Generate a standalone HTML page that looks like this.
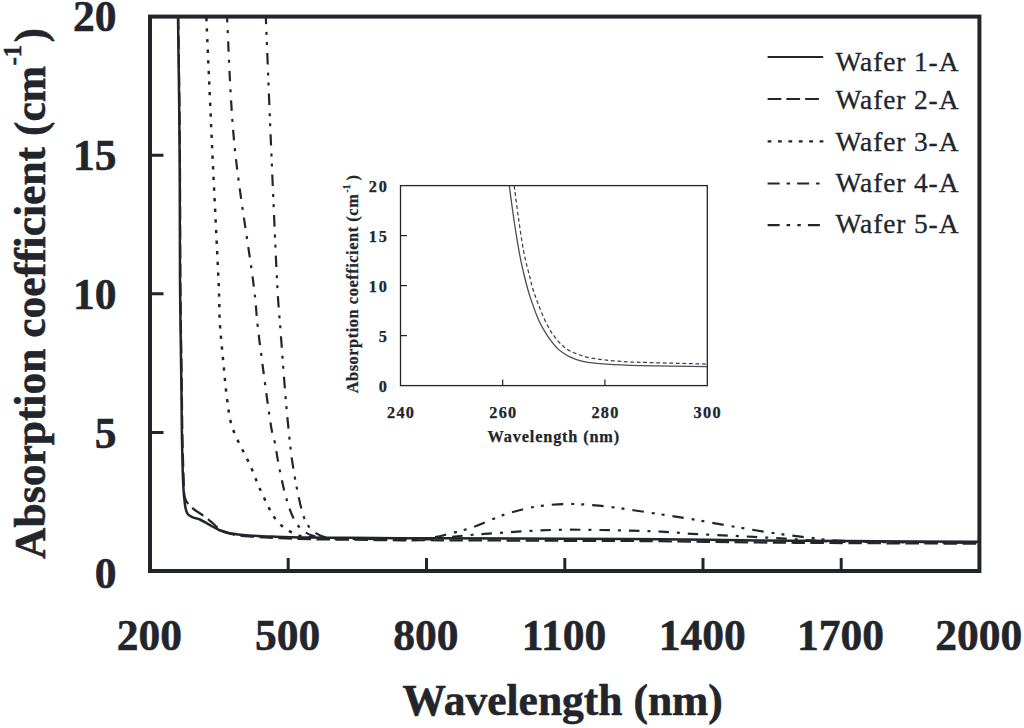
<!DOCTYPE html>
<html><head><meta charset="utf-8"><title>Absorption coefficient</title>
<style>html,body{margin:0;padding:0;background:#fff;}body{width:1024px;height:728px;overflow:hidden;font-family:"Liberation Serif",serif;}svg{display:block;}</style></head>
<body>
<svg width="1024" height="728" viewBox="0 0 1024 728">
<rect width="1024" height="728" fill="#fff"/>
<defs><clipPath id="cm"><rect x="150" y="16.5" width="829.5" height="554.5"/></clipPath><clipPath id="ci"><rect x="400.5" y="185.6" width="306.8" height="200"/></clipPath></defs>
<g fill="none" stroke="#22252c" stroke-linejoin="round" clip-path="url(#cm)">
<path d="M178.0,16.5C178.3,38.8 179.3,106.1 179.6,150.0C179.9,193.9 179.7,239.2 180.0,280.0C180.3,320.8 181.2,368.3 181.5,395.0C181.8,421.7 181.7,425.2 182.0,440.0C182.3,454.8 182.7,473.2 183.2,484.0C183.7,494.8 184.3,500.0 185.0,505.0C185.7,510.0 186.3,511.7 187.6,513.8C188.9,515.8 190.8,516.3 192.9,517.3C195.0,518.2 197.3,518.3 199.9,519.5C202.5,520.7 205.5,522.6 208.7,524.4C211.9,526.1 215.7,528.5 219.2,530.0C222.7,531.5 224.8,532.3 229.8,533.2C234.8,534.1 241.4,534.8 249.0,535.4C256.6,536.0 265.2,536.3 275.5,536.7C285.8,537.1 298.2,537.4 310.6,537.6C323.0,537.8 335.1,537.6 350.0,537.7C364.9,537.8 385.0,538.2 400.0,538.3C415.0,538.4 412.2,538.2 440.0,538.3C467.8,538.4 530.3,538.6 567.0,538.8C603.7,538.9 627.8,538.9 660.0,539.2C692.2,539.5 728.3,540.2 760.0,540.5C791.7,540.8 813.5,540.9 850.0,541.1C886.5,541.3 957.5,541.6 979.0,541.7" stroke-width="2.5"/>
<path d="M178.3,16.5C178.6,38.8 179.6,106.1 179.9,150.0C180.2,193.9 180.1,239.2 180.4,280.0C180.7,320.8 181.6,368.3 181.9,395.0C182.2,421.7 182.2,425.8 182.5,440.0C182.8,454.2 183.3,470.3 183.7,480.0C184.1,489.7 183.6,493.4 185.0,498.0C186.4,502.6 188.9,504.8 192.0,507.7C195.1,510.6 200.0,513.1 203.4,515.6C206.8,518.1 209.6,520.4 212.2,522.6C214.8,524.8 216.3,527.1 219.2,529.0C222.1,530.9 224.8,532.6 229.8,533.8C234.8,535.0 241.4,535.7 249.0,536.4C256.6,537.1 265.2,537.5 275.5,538.0C285.8,538.5 298.2,538.9 310.6,539.2C323.0,539.5 335.1,539.5 350.0,539.7C364.9,539.9 385.0,540.2 400.0,540.3C415.0,540.4 412.2,540.2 440.0,540.3C467.8,540.4 530.3,540.6 567.0,540.8C603.7,540.9 627.8,540.9 660.0,541.2C692.2,541.5 728.3,542.2 760.0,542.5C791.7,542.8 813.5,542.9 850.0,543.1C886.5,543.3 957.5,543.6 979.0,543.7" stroke-width="2.2" stroke-dasharray="13.5 5.5"/>
<path d="M206.3,16.5C207.2,37.8 210.0,100.7 212.0,144.6C214.0,188.5 217.2,251.0 218.5,280.0C219.8,309.0 219.1,308.0 219.6,318.5C220.1,329.0 220.8,335.4 221.5,343.0C222.2,350.6 222.8,357.1 223.5,364.0C224.2,370.9 224.7,377.7 225.4,384.6C226.1,391.5 227.2,400.3 227.9,405.4C228.6,410.5 228.8,412.0 229.4,415.4C230.0,418.8 230.7,422.2 231.7,425.6C232.7,429.0 234.1,432.1 235.6,435.6C237.1,439.1 239.0,443.1 240.8,446.7C242.6,450.2 244.5,453.5 246.2,456.9C247.9,460.3 249.5,463.9 251.0,467.3C252.5,470.7 253.8,474.0 255.2,477.5C256.6,481.0 257.2,483.1 259.6,488.3C262.0,493.5 266.7,503.5 269.3,508.6C271.9,513.7 273.0,515.8 275.5,519.0C278.0,522.2 281.1,525.4 284.3,527.9C287.5,530.4 291.6,532.5 294.8,534.0C298.0,535.5 299.4,536.0 303.6,536.6C307.8,537.2 317.3,537.6 320.0,537.8" stroke-width="2.5" stroke-dasharray="3.3 7.3" stroke-dashoffset="9.1"/>
<path d="M227.0,16.5C228.2,37.8 230.1,100.7 234.4,144.6C238.7,188.5 249.1,249.8 253.0,280.0C256.9,310.2 255.9,310.7 257.7,326.0C259.4,341.3 261.3,355.3 263.5,372.0C265.7,388.7 269.1,414.1 271.0,426.0C272.9,437.9 273.7,436.8 275.0,443.5C276.3,450.2 277.4,458.5 279.0,466.4C280.6,474.3 282.6,484.0 284.3,491.0C286.1,498.0 287.8,503.6 289.5,508.6C291.2,513.6 293.1,517.7 294.8,520.9C296.6,524.1 298.2,526.0 300.0,527.9C301.8,529.8 303.2,531.0 305.3,532.3C307.4,533.6 309.1,534.6 312.4,535.6C315.7,536.6 318.7,537.5 325.0,538.0C331.3,538.5 333.0,538.6 350.0,538.8C367.0,539.0 411.2,539.6 427.0,539.4C442.8,539.2 437.2,538.4 445.0,537.6C452.8,536.8 463.8,535.6 473.8,534.7C483.8,533.9 494.6,533.2 505.0,532.5C515.4,531.8 525.6,531.1 536.0,530.6C546.4,530.1 557.0,529.8 567.5,529.7C578.0,529.6 588.3,529.9 598.8,530.0C609.2,530.1 619.6,530.3 630.0,530.6C640.4,530.9 650.8,531.1 661.0,531.6C671.2,532.1 680.8,533.1 691.0,533.8C701.2,534.4 712.0,534.8 722.5,535.3C733.0,535.8 743.3,536.3 753.8,536.9C764.2,537.5 774.6,538.0 785.0,538.6C795.4,539.2 805.7,540.1 816.0,540.6C826.3,541.1 819.8,541.4 847.0,541.8C874.2,542.2 957.0,542.6 979.0,542.8" stroke-width="2.2" stroke-dasharray="10.5 8 3 8" stroke-dashoffset="4.5"/>
<path d="M265.8,16.5C266.7,37.8 269.1,100.7 271.0,144.6C272.9,188.5 275.4,248.4 277.0,280.0C278.6,311.6 279.4,314.8 280.8,334.0C282.2,353.2 283.9,376.8 285.4,395.0C286.9,413.2 288.7,431.6 290.0,443.5C291.3,455.4 291.8,458.5 293.0,466.4C294.2,474.3 295.9,483.7 297.4,491.0C298.9,498.3 300.3,505.0 301.8,510.3C303.3,515.6 304.4,519.2 306.2,522.6C308.0,526.0 310.2,528.4 312.4,530.5C314.6,532.6 317.1,533.9 319.4,535.0C321.7,536.1 321.3,536.8 326.4,537.4C331.5,538.0 334.1,538.3 350.0,538.6C365.9,538.9 408.4,539.4 422.0,539.2C435.6,539.0 427.8,538.3 431.5,537.6C435.2,536.9 437.5,536.8 444.5,535.0C451.5,533.2 463.7,530.3 473.8,526.9C483.8,523.5 494.6,517.8 505.0,514.4C515.4,511.0 525.8,508.3 536.2,506.6C546.7,504.9 557.1,504.2 567.5,504.0C577.9,503.8 588.3,504.7 598.8,505.6C609.2,506.6 619.6,508.2 630.0,509.7C640.4,511.2 650.8,512.9 661.0,514.4C671.2,515.9 680.8,517.3 691.0,519.0C701.2,520.7 712.0,522.9 722.5,524.7C733.0,526.5 743.3,528.3 753.8,530.0C764.2,531.7 774.6,533.3 785.0,534.7C795.4,536.1 805.6,537.4 816.0,538.4C826.4,539.4 820.3,540.3 847.5,541.0C874.7,541.7 957.1,542.3 979.0,542.6" stroke-width="2.2" stroke-dasharray="11.5 8 3 7 3 8" stroke-dashoffset="3.8"/>
</g>
<g fill="none" stroke="#22252c">
<rect x="150" y="16.6" width="829.4" height="554.4" stroke-width="4"/>
<path d="M152,155.2H163.5M152,293.8H163.5M152,432.4H163.5M288.2,569V558M426.5,569V558M564.8,569V558M703.0,569V558M841.2,569V558" stroke-width="3"/>
</g>
<g font-family="Liberation Serif, serif" font-weight="bold" fill="#22252c" stroke="#22252c" stroke-width="0.55" font-size="43.5">
<text x="116.6" y="31.0" text-anchor="end">20</text>
<text x="116.6" y="170.1" text-anchor="end">15</text>
<text x="116.6" y="309.0" text-anchor="end">10</text>
<text x="116.6" y="448.4" text-anchor="end">5</text>
<text x="116.6" y="587.7" text-anchor="end">0</text>
<text x="149.3" y="649.8" text-anchor="middle">200</text>
<text x="287.6" y="649.8" text-anchor="middle">500</text>
<text x="425.8" y="649.8" text-anchor="middle">800</text>
<text x="564.0" y="649.8" text-anchor="middle">1100</text>
<text x="702.3" y="649.8" text-anchor="middle">1400</text>
<text x="840.5" y="649.8" text-anchor="middle">1700</text>
<text x="978.8" y="649.8" text-anchor="middle">2000</text>
<text x="402.6" y="714.5">Wavelength (nm)</text>
<text transform="translate(45,558.9) rotate(-90)">Absorption coefficient (cm</text>
<text transform="translate(20.6,65.3) rotate(-90)" font-size="24.5">-1</text>
<text transform="translate(45,42.6) rotate(-90)">)</text>
</g>
<g fill="none" stroke="#22252c" stroke-width="2.2">
<path d="M767.6,57H823.2"/>
<path d="M767.6,99H823.2" stroke-dasharray="13.7 5.1"/>
<path d="M767.6,141.3H823.5" stroke-dasharray="3.8 6.6"/>
<path d="M767.6,183.5H823.2" stroke-dasharray="12 7 3.5 7"/>
<path d="M767.6,225.1H820.5" stroke-dasharray="12 7 3.5 7.2 3.5 7.1"/>
</g>
<g font-family="Liberation Serif, serif" fill="#22252c" stroke="#22252c" stroke-width="0.3" font-size="27.5">
<text x="835.5" y="70.8" textLength="123" lengthAdjust="spacing">Wafer 1-A</text>
<text x="835.5" y="108.5" textLength="123" lengthAdjust="spacing">Wafer 2-A</text>
<text x="835.5" y="150.7" textLength="123" lengthAdjust="spacing">Wafer 3-A</text>
<text x="835.5" y="192.1" textLength="123" lengthAdjust="spacing">Wafer 4-A</text>
<text x="835.5" y="233.0" textLength="123" lengthAdjust="spacing">Wafer 5-A</text>
</g>
<rect x="400.5" y="185.6" width="306.8" height="200" fill="#fff" stroke="#22252c" stroke-width="1.3"/>
<g fill="none" stroke="#22252c" clip-path="url(#ci)">
<path d="M509.3,185.8C510.0,191.1 512.0,206.4 513.6,217.5C515.2,228.6 517.6,243.0 519.2,252.1C520.8,261.2 521.9,265.7 523.4,272.0C524.9,278.3 526.5,284.7 528.0,290.0C529.5,295.3 530.6,298.7 532.4,303.6C534.1,308.6 536.5,315.1 538.5,319.7C540.5,324.3 542.6,327.9 544.7,331.4C546.8,334.9 548.8,337.9 550.9,340.7C553.0,343.5 555.0,346.1 557.1,348.1C559.2,350.2 561.2,351.6 563.3,353.0C565.3,354.4 566.9,355.5 569.4,356.7C571.9,357.9 575.0,359.3 578.1,360.2C581.2,361.1 583.3,361.6 588.0,362.3C592.7,363.0 597.8,363.6 606.5,364.2C615.2,364.8 623.2,365.2 640.0,365.6C656.8,366.0 695.8,366.4 707.0,366.6" stroke-width="1.3" stroke="#4a4d54"/>
<path d="M514.2,185.8C514.9,191.1 516.8,206.4 518.4,217.5C520.0,228.6 521.9,242.2 523.8,252.1C525.7,262.0 528.2,270.5 529.8,277.0C531.4,283.5 532.1,286.6 533.6,291.2C535.1,295.8 536.6,300.1 538.5,304.8C540.4,309.6 542.6,315.3 544.7,319.7C546.8,324.1 548.8,328.0 550.9,331.4C553.0,334.8 555.0,337.5 557.1,340.0C559.2,342.5 561.2,344.4 563.3,346.2C565.3,348.0 566.9,349.2 569.4,350.6C571.9,352.0 575.0,353.2 578.1,354.3C581.2,355.4 583.3,356.4 588.0,357.4C592.7,358.4 600.3,359.5 606.5,360.2C612.7,360.9 619.4,361.3 625.0,361.7C630.6,362.1 626.3,361.9 640.0,362.3C653.7,362.7 695.8,363.8 707.0,364.1" stroke-width="1.25" stroke="#3d4047" stroke-dasharray="3.8 2.7"/>
</g>
<path d="M401,235.6H407M401,285.6H407M401,335.6H407M502.7,385V379.5M604.9,385V379.5" fill="none" stroke="#22252c" stroke-width="1.2"/>
<g font-family="Liberation Serif, serif" font-weight="bold" fill="#22252c" stroke="#22252c" stroke-width="0.25" font-size="16.3">
<text x="368.7" y="191.9" textLength="18.3" lengthAdjust="spacing">20</text>
<text x="368.7" y="241.9" textLength="18.3" lengthAdjust="spacing">15</text>
<text x="368.7" y="291.9" textLength="18.3" lengthAdjust="spacing">10</text>
<text x="378.7" y="341.9">5</text>
<text x="378.7" y="391.9">0</text>
<text x="387.0" y="418.4" textLength="27" lengthAdjust="spacing">240</text>
<text x="489.2" y="418.4" textLength="27" lengthAdjust="spacing">260</text>
<text x="591.4" y="418.4" textLength="27" lengthAdjust="spacing">280</text>
<text x="693.6" y="418.4" textLength="27" lengthAdjust="spacing">300</text>
<text x="487.6" y="441.8" textLength="131.5" lengthAdjust="spacing">Wavelength (nm)</text>
<text transform="translate(358.3,393.3) rotate(-90)" textLength="199" lengthAdjust="spacing">Absorption coefficient (cm</text>
<text transform="translate(349.5,192.5) rotate(-90)" font-size="9.5">-1</text>
<text transform="translate(358.3,180.5) rotate(-90)">)</text>
</g>
</svg>
</body></html>
